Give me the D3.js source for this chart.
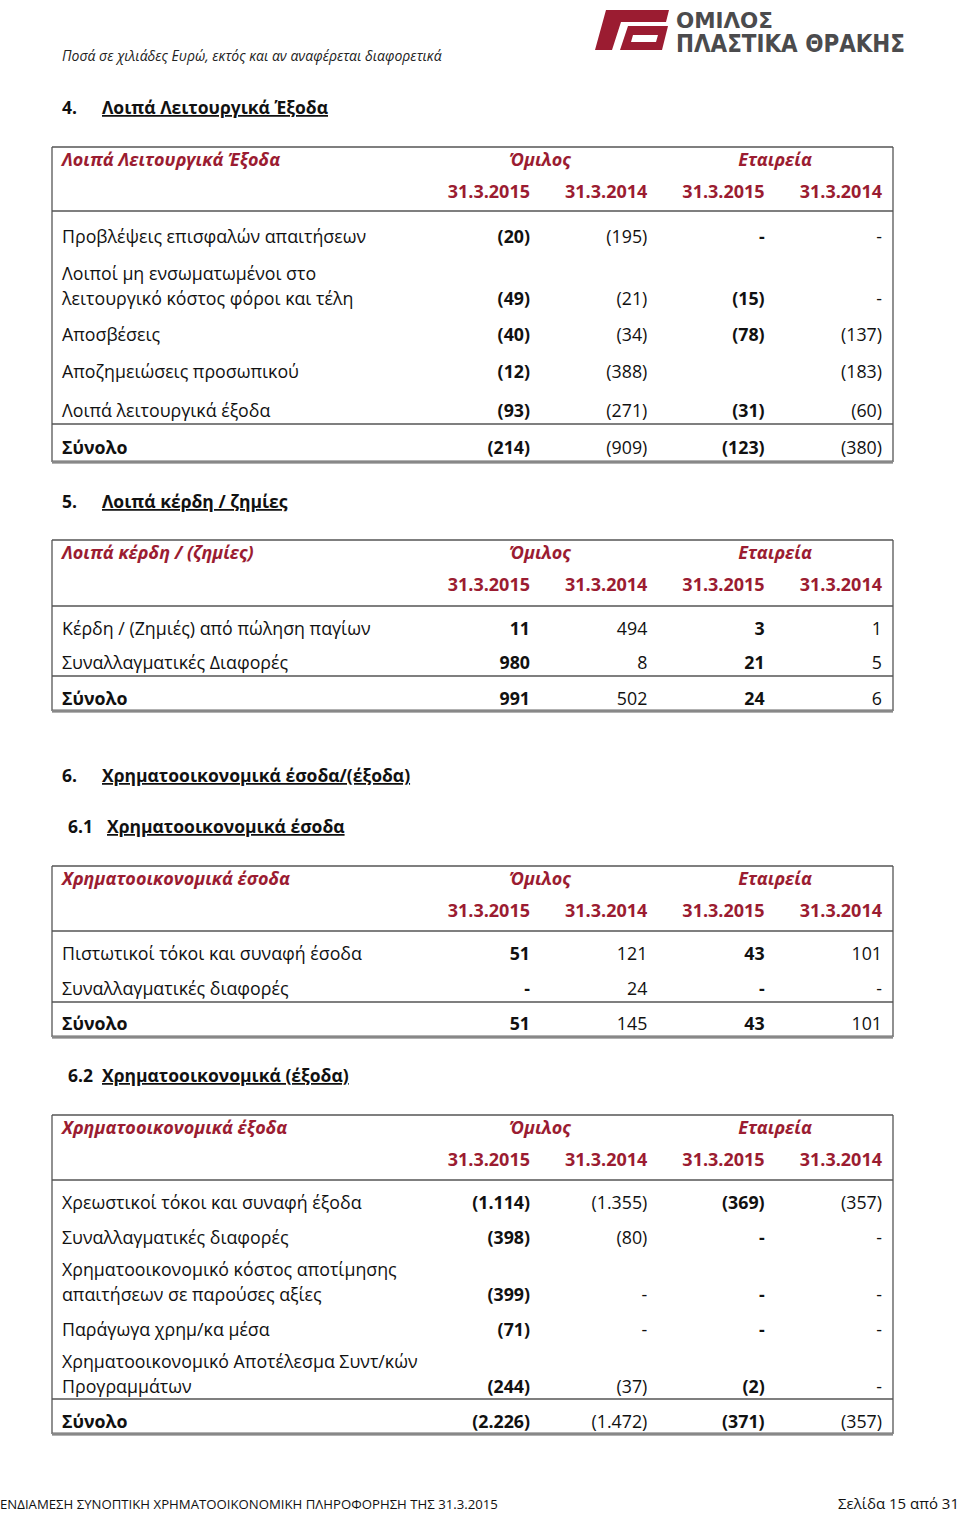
<!DOCTYPE html>
<html><head><meta charset="utf-8">
<script src="https://cdn.jsdelivr.net/npm/d3@7"></script>
<style>html,body{margin:0;padding:0;background:#fff;}svg{display:block;}</style>
</head><body>
<script>
// ---------- DATA ----------
const columnKeys = ["g2015","g2014","c2015","c2014"];
const dateLabels = ["31.3.2015","31.3.2014","31.3.2015","31.3.2014"];
const groupLabels = ["Όμιλος","Εταιρεία"];
const totalLabel = "Σύνολο";

// 4. Λοιπά Λειτουργικά Έξοδα
const t4Labels = [["Προβλέψεις επισφαλών απαιτήσεων"],["Λοιποί μη ενσωματωμένοι στο","λειτουργικό κόστος φόροι και τέλη"],["Αποσβέσεις"],["Αποζημειώσεις προσωπικού"],["Λοιπά λειτουργικά έξοδα"]];
const t4G2015 = [-20,-49,-40,-12,-93];
const t4G2014 = [-195,-21,-34,-388,-271];
const t4C2015 = [0,-15,-78,null,-31];
const t4C2014 = [0,0,-137,-183,-60];
const t4Totals = [-214,-909,-123,-380];

// 5. Λοιπά κέρδη / ζημίες
const t5Labels = [["Κέρδη / (Ζημιές) από πώληση παγίων"],["Συναλλαγματικές Διαφορές"]];
const t5G2015 = [11,980];
const t5G2014 = [494,8];
const t5C2015 = [3,21];
const t5C2014 = [1,5];
const t5Totals = [991,502,24,6];

// 6.1 Χρηματοοικονομικά έσοδα
const t61Labels = [["Πιστωτικοί τόκοι και συναφή έσοδα"],["Συναλλαγματικές διαφορές"]];
const t61G2015 = [51,0];
const t61G2014 = [121,24];
const t61C2015 = [43,0];
const t61C2014 = [101,0];
const t61Totals = [51,145,43,101];

// 6.2 Χρηματοοικονομικά (έξοδα)
const t62Labels = [["Χρεωστικοί τόκοι και συναφή έξοδα"],["Συναλλαγματικές διαφορές"],["Χρηματοοικονομικό κόστος αποτίμησης","απαιτήσεων σε παρούσες αξίες"],["Παράγωγα χρημ/κα μέσα"],["Χρηματοοικονομικό Αποτέλεσμα Συντ/κών","Προγραμμάτων"]];
const t62G2015 = [-1114,-398,-399,-71,-244];
const t62G2014 = [-1355,-80,0,0,-37];
const t62C2015 = [-369,0,0,0,-2];
const t62C2014 = [-357,0,0,0,0];
const t62Totals = [-2226,-1472,-371,-357];

const headerNote = "Ποσά σε χιλιάδες Ευρώ, εκτός και αν αναφέρεται διαφορετικά";
const footerLeft = "ΕΝΔΙΑΜΕΣΗ ΣΥΝΟΠΤΙΚΗ ΧΡΗΜΑΤΟΟΙΚΟΝΟΜΙΚΗ ΠΛΗΡΟΦΟΡΗΣΗ ΤΗΣ 31.3.2015";
const footerRight = "Σελίδα 15 από 31";
const logoLine1 = "ΟΜΙΛΟΣ";
const logoLine2 = "ΠΛΑΣΤΙΚΑ ΘΡΑΚΗΣ";

// ---------- STYLE / LAYOUT ----------
const FONT = "'Open Sans', 'Noto Sans', sans-serif";
const RED = "#9b1c31";
const BORDER = "#555";
const W = 960, H = 1514;
const tableLeft = 52, tableRight = 893, labelX = 62;
const fs = 17.8;

const svg = d3.select("body").append("svg").attr("width", W).attr("height", H)
  .style("font-family", FONT);

// column scale (right edges of numeric columns)
const xCol = d3.scalePoint().domain(columnKeys).range([530, 882]);

const gr = d3.formatLocale({decimal:",", thousands:".", grouping:[3], currency:["€",""]}).format(",");
function fmt(v){
  if (v === null || v === undefined) return "";
  if (v === 0) return "-";
  const s = gr(Math.abs(v));
  return v < 0 ? "(" + s + ")" : s;
}

// header note
svg.append("text").attr("x", 62).attr("y", 61).attr("font-size", 14).attr("font-style","italic")
  .attr("fill","#222").text(headerNote);

// logo
const logo = svg.append("g");
logo.append("path").attr("fill", RED).attr("fill-rule","evenodd")
  .attr("d","M606,10 L669,10 L666,22 L621,22 L612,50 L595,50 Z " +
            "M628,26 L668,26 L662,50 L620,50 Z M633,35 L658,35 L656,42 L631,42 Z");
logo.append("text").attr("x", 676).attr("y", 28).attr("font-size", 22).attr("font-weight", 900)
  .attr("font-family","'DejaVu Sans', sans-serif").attr("fill","#4b4b4d")
  .attr("textLength", 97).attr("lengthAdjust","spacingAndGlyphs").text(logoLine1);
logo.append("text").attr("x", 676).attr("y", 52).attr("font-size", 24).attr("font-weight", 900)
  .attr("font-family","'DejaVu Sans', sans-serif").attr("fill","#4b4b4d")
  .attr("textLength", 229).attr("lengthAdjust","spacingAndGlyphs").text(logoLine2);

// section headings
function heading(num, numX, title, titleX, y){
  svg.append("text").attr("x", numX).attr("y", y).attr("font-size", 17.5).attr("font-weight", 700)
    .attr("fill","#111").text(num);
  svg.append("text").attr("x", titleX).attr("y", y).attr("font-size", 17.5).attr("font-weight", 700)
    .attr("fill","#111").attr("text-decoration","underline").text(title);
}
heading("4.", 62, "Λοιπά Λειτουργικά Έξοδα", 102, 114);
heading("5.", 62, "Λοιπά κέρδη / ζημίες", 102, 508);
heading("6.", 62, "Χρηματοοικονομικά έσοδα/(έξοδα)", 102, 782);
heading("6.1", 68, "Χρηματοοικονομικά έσοδα", 107, 833);
heading("6.2", 68, "Χρηματοοικονομικά (έξοδα)", 102, 1082);

// generic table
function drawTable(cfg){
  const g = svg.append("g");
  const {top, headLine, rowY, sepY, totalY, bottom} = cfg;
  const hl = (x1,x2,y1,y2,c,w) => g.append("line").attr("x1",x1).attr("x2",x2).attr("y1",y1).attr("y2",y2)
    .attr("stroke",c).attr("stroke-width",w);
  hl(tableLeft, tableRight, top, top, BORDER, 1.3);
  hl(tableLeft, tableLeft, top, bottom, BORDER, 1.3);
  hl(tableRight, tableRight, top, bottom, BORDER, 1.3);
  hl(tableLeft, tableRight, headLine, headLine, BORDER, 1.3);
  hl(tableLeft, tableRight, sepY, sepY, BORDER, 1.3);
  hl(tableLeft, tableRight, bottom, bottom, "#666", 3);
  hl(tableLeft, tableRight, bottom, bottom, "#bbb", 0.8);

  // header
  const hy = top + 19;
  g.append("text").attr("x", labelX).attr("y", hy).attr("font-size", 18).attr("font-style","italic")
    .attr("font-weight", 700).attr("fill", RED).text(cfg.title);
  g.selectAll(".grp").data(groupLabels).join("text")
    .attr("x", (d,i) => i === 0 ? 540 : 775).attr("y", hy).attr("text-anchor","middle")
    .attr("font-size", 18).attr("font-style","italic").attr("font-weight", 700).attr("fill", RED).text(d => d);
  g.selectAll(".date").data(dateLabels).join("text")
    .attr("x", (d,i) => xCol(columnKeys[i])).attr("y", top + 51).attr("text-anchor","end")
    .attr("font-size", 18).attr("font-weight", 700).attr("fill", RED).text(d => d);

  // body rows
  const series = cfg.series;
  cfg.labels.forEach((lines, i) => {
    const yb = rowY[i];
    lines.forEach((ln, j) => {
      g.append("text").attr("x", labelX).attr("y", yb - (lines.length - 1 - j) * 25.5)
        .attr("font-size", fs).attr("fill", "#111").text(ln);
    });
    g.selectAll(null).data(columnKeys).join("text")
      .attr("x", k => xCol(k)).attr("y", yb).attr("text-anchor","end")
      .attr("font-size", fs).attr("font-weight", (k,ci) => ci % 2 === 0 ? 700 : 400)
      .attr("fill","#111").text((k,ci) => fmt(series[ci][i]));
  });
  // total row
  g.append("text").attr("x", labelX).attr("y", totalY).attr("font-size", fs).attr("font-weight", 700)
    .attr("fill","#111").text(totalLabel);
  g.selectAll(".tot").data(columnKeys).join("text")
    .attr("x", k => xCol(k)).attr("y", totalY).attr("text-anchor","end")
    .attr("font-size", fs).attr("font-weight", (k,ci) => ci % 2 === 0 ? 700 : 400)
    .attr("fill","#111").text((k,ci) => fmt(cfg.totals[ci]));
}

drawTable({title:"Λοιπά Λειτουργικά Έξοδα", labels:t4Labels,
  series:[t4G2015,t4G2014,t4C2015,t4C2014], totals:t4Totals,
  top:147, headLine:211, rowY:[243,305,341,378,417], sepY:424, totalY:454, bottom:462});
drawTable({title:"Λοιπά κέρδη / (ζημίες)", labels:t5Labels,
  series:[t5G2015,t5G2014,t5C2015,t5C2014], totals:t5Totals,
  top:540, headLine:606, rowY:[635,669], sepY:676, totalY:705, bottom:711});
drawTable({title:"Χρηματοοικονομικά έσοδα", labels:t61Labels,
  series:[t61G2015,t61G2014,t61C2015,t61C2014], totals:t61Totals,
  top:866, headLine:931, rowY:[960,995], sepY:1002, totalY:1030, bottom:1037});
drawTable({title:"Χρηματοοικονομικά έξοδα", labels:t62Labels,
  series:[t62G2015,t62G2014,t62C2015,t62C2014], totals:t62Totals,
  top:1115, headLine:1180, rowY:[1209,1244,1301,1336,1393], sepY:1399, totalY:1428, bottom:1434});

// footer
svg.append("text").attr("x", 0).attr("y", 1509).attr("font-size", 13.2).attr("fill","#111").text(footerLeft);
svg.append("text").attr("x", 959).attr("y", 1509).attr("text-anchor","end").attr("font-size", 15)
  .attr("fill","#111").text(footerRight);
</script>
</body></html>
